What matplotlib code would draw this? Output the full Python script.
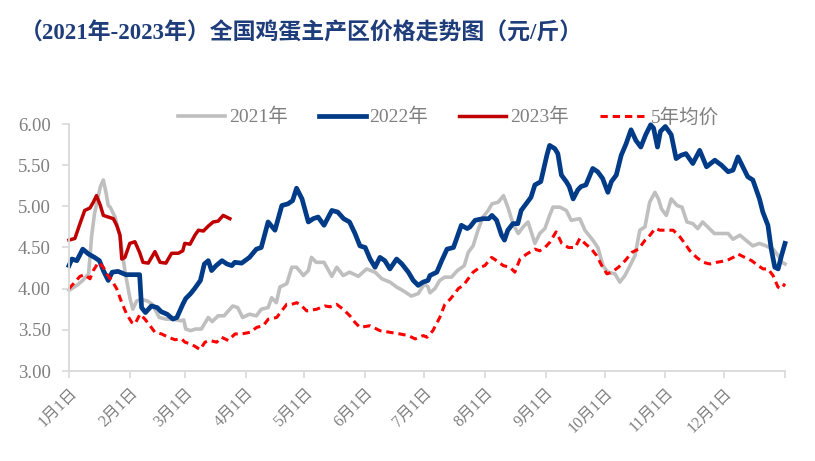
import numpy as np
import matplotlib
matplotlib.use("Agg")
import matplotlib.pyplot as plt

plt.rcParams['font.family'] = ['Liberation Serif', 'Noto Sans CJK SC', 'DejaVu Sans']

# day of year (0 = Jan 1) and price (yuan / jin)
d2021 = [0, 4, 7, 10, 11.5, 13, 16, 17.5, 19, 20, 21, 23.5, 26, 28.5, 31, 32.5, 34.5, 37, 40, 42.5,
         46, 49.5, 53, 57, 58.5, 59.5, 62, 64.5, 67.5, 71, 73, 76, 79, 83.5, 86, 88.5, 92, 95.5, 98,
         101.5, 103.3, 105.7, 107.5, 111, 113.6, 116, 119.5, 122, 123.6, 126, 130, 134, 136.5, 139.8,
         143, 147.5, 151.7, 156, 159.5, 163.6, 167, 170, 174.5, 178, 181.3, 183, 184, 186.5, 189,
         191.6, 195, 198, 201.5, 203.5, 206, 208.5, 211, 213.7, 215.6, 218.8, 221.5, 224, 226.3, 229,
         231.5, 234, 237.5, 240, 242.6, 245, 246.7, 250.2, 253.5, 256, 260.4, 263, 267, 269.6, 272.2,
         274.7, 278.3, 280.8, 283.4, 286, 288.5, 291, 293.6, 296, 298.7, 300.5, 302, 304.5, 307, 310,
         312.5, 315, 318, 320.5, 323, 325.6, 329, 333.5, 336, 338.5, 342, 345, 348.6, 352, 355.3, 359,
         361.5, 363.5, 365]
p2021 = [3.98, 4.04, 4.10, 4.18, 4.63, 4.91, 5.24, 5.32, 5.15, 5.01, 4.99, 4.87, 4.63, 4.22, 3.89, 3.75,
         3.85, 3.87, 3.85, 3.81, 3.65, 3.63, 3.63, 3.61, 3.62, 3.51, 3.49, 3.51, 3.51, 3.65, 3.60, 3.67,
         3.67, 3.79, 3.77, 3.65, 3.69, 3.67, 3.75, 3.77, 3.89, 3.83, 4.02, 4.06, 4.26, 4.26, 4.16, 4.22,
         4.38, 4.32, 4.32, 4.15, 4.26, 4.16, 4.20, 4.15, 4.24, 4.20, 4.12, 4.08, 4.02, 3.98, 3.91, 3.94,
         4.06, 4.02, 3.95, 4.00, 4.10, 4.14, 4.14, 4.22, 4.28, 4.44, 4.52, 4.71, 4.87, 4.95, 5.03, 5.05,
         5.13, 4.97, 4.79, 4.67, 4.75, 4.81, 4.55, 4.67, 4.73, 4.89, 4.99, 4.99, 4.95, 4.83, 4.85, 4.71,
         4.59, 4.50, 4.28, 4.20, 4.18, 4.08, 4.16, 4.28, 4.40, 4.71, 4.75, 5.05, 5.17, 5.09, 4.97, 4.89,
         5.09, 5.01, 4.99, 4.81, 4.79, 4.73, 4.81, 4.75, 4.67, 4.67, 4.67, 4.60, 4.65, 4.59, 4.52, 4.55,
         4.52, 4.48, 4.40, 4.32, 4.30]

d2022 = [0, 1.5, 4, 7, 10, 13, 15.5, 17.5, 20, 22, 25, 29, 36, 37, 39, 42, 45, 47, 50, 53, 55, 58, 59.5,
         62, 64, 67, 69, 71, 72.7, 75, 78, 80.5, 83, 84.5, 88, 92, 95.5, 98, 101.5, 105, 108.5, 111.6,
         114, 116, 118.8, 122, 124.5, 127, 130, 134, 137, 140, 143, 145.8, 148.3, 151, 153.5, 156, 158.5,
         161, 163.6, 167, 169.7, 173, 175.5, 178, 180.5, 183, 184, 187.5, 190, 192.7, 196, 198.5, 200,
         203, 204.4, 207, 211, 214, 215.6, 218, 220.5, 222, 223.7, 226.3, 228.8, 230.5, 233, 235.5,
         237.5, 239, 240.5, 243.6, 245, 247.7, 249.2, 251, 253.5, 255, 257, 259.4, 261, 263.5, 267,
         269.5, 272, 274.7, 276.5, 279, 281.5, 284, 286.5, 289, 291.5, 294, 296.5, 298, 300, 301.5, 304,
         307, 309.5, 312, 314.5, 318, 321.5, 325, 329.2, 332.6, 336, 338.5, 341, 343.5, 346, 348.6, 352,
         353.7, 356.3, 358, 359.8, 361.5, 363.2, 365]
p2022 = [4.28, 4.36, 4.34, 4.48, 4.42, 4.38, 4.34, 4.22, 4.10, 4.20, 4.21, 4.17, 4.17, 3.77, 3.71, 3.79,
         3.77, 3.72, 3.69, 3.63, 3.65, 3.81, 3.88, 3.94, 4.00, 4.10, 4.30, 4.34, 4.22, 4.28, 4.34, 4.30,
         4.28, 4.32, 4.31, 4.38, 4.48, 4.50, 4.81, 4.71, 5.01, 5.03, 5.07, 5.22, 5.09, 4.81, 4.85, 4.87,
         4.77, 4.95, 4.93, 4.85, 4.81, 4.67, 4.52, 4.50, 4.36, 4.26, 4.38, 4.34, 4.24, 4.36, 4.30, 4.20,
         4.10, 4.04, 4.08, 4.10, 4.16, 4.20, 4.34, 4.48, 4.50, 4.67, 4.77, 4.73, 4.75, 4.83, 4.85, 4.85,
         4.89, 4.83, 4.65, 4.59, 4.71, 4.79, 4.79, 4.95, 5.03, 5.11, 5.26, 5.28, 5.30, 5.62, 5.74, 5.70,
         5.64, 5.38, 5.30, 5.24, 5.09, 5.20, 5.24, 5.26, 5.46, 5.42, 5.34, 5.17, 5.30, 5.38, 5.62, 5.76,
         5.93, 5.80, 5.72, 5.87, 5.99, 5.95, 5.72, 5.91, 5.97, 5.87, 5.58, 5.62, 5.64, 5.52, 5.68, 5.48,
         5.56, 5.50, 5.42, 5.44, 5.60, 5.48, 5.36, 5.32, 5.09, 4.93, 4.77, 4.48, 4.26, 4.24, 4.40, 4.55]

d2023 = [0, 3, 5.6, 8, 10.7, 12.4, 14, 16, 17.5, 20, 22.6, 24.3, 26, 26.9, 28.5, 31, 33.6, 36, 37.7,
         40.4, 43.8, 46.4, 49.4, 52.3, 55.7, 58, 59, 61.7, 64.2, 66, 68.5, 71, 73.5, 76, 78.6, 82]
p2023 = [4.59, 4.61, 4.79, 4.95, 4.98, 5.05, 5.13, 5.01, 4.89, 4.87, 4.85, 4.77, 4.65, 4.36, 4.38, 4.55,
         4.57, 4.44, 4.32, 4.31, 4.45, 4.32, 4.31, 4.43, 4.43, 4.46, 4.55, 4.54, 4.65, 4.71, 4.70, 4.76,
         4.81, 4.82, 4.89, 4.85]

d_avg = [0, 3, 5.6, 8, 10.7, 12.4, 15, 17.5, 19.2, 21.8, 24.3, 26.9, 29.4, 32, 33.6, 36.2, 38.7, 41.3,
         43.8, 47.2, 50.6, 54, 57.4, 59.1, 61.7, 64.2, 66.8, 69.3, 71.9, 75.3, 77.8, 81.2, 84.6, 88, 92.3,
         95.7, 99, 101.6, 105.9, 108.4, 111, 113.6, 116.1, 118.6, 121.2, 126.2, 130.4, 133, 136.4, 139.8,
         143.2, 145.8, 148.3, 153.4, 158.5, 163.6, 168.7, 173, 176.4, 180.6, 182.5, 185.5, 189, 191.6,
         194.2, 196.7, 198.4, 201, 203.5, 206, 209.5, 212, 215.4, 218, 221.4, 224.8, 227.3, 229.9, 233.3,
         237.5, 240, 242.6, 245, 248.3, 251.2, 254.6, 258, 260.4, 263, 266.4, 269, 271.6, 274.2, 276.7,
         280.1, 283.5, 286.9, 290.3, 293.7, 296.2, 298.8, 301.3, 303.8, 308, 311.4, 313.9, 316.5, 319.9,
         323.3, 326.7, 330.1, 335.2, 338.6, 341.1, 344.5, 348, 351.3, 353.8, 356.3, 358.9, 361.4, 363.1,
         365]
p_avg = [4.00, 4.08, 4.15, 4.17, 4.12, 4.22, 4.32, 4.26, 4.18, 4.10, 4.00, 3.83, 3.69, 3.59, 3.57, 3.69,
         3.63, 3.55, 3.47, 3.45, 3.41, 3.38, 3.39, 3.35, 3.33, 3.30, 3.26, 3.35, 3.37, 3.35, 3.41, 3.37,
         3.45, 3.45, 3.47, 3.53, 3.55, 3.63, 3.65, 3.73, 3.81, 3.81, 3.83, 3.79, 3.73, 3.75, 3.79, 3.78,
         3.81, 3.75, 3.67, 3.59, 3.53, 3.55, 3.49, 3.47, 3.45, 3.43, 3.39, 3.43, 3.41, 3.49, 3.65, 3.81,
         3.87, 3.94, 4.00, 4.04, 4.12, 4.20, 4.26, 4.28, 4.38, 4.34, 4.28, 4.26, 4.20, 4.36, 4.42, 4.48,
         4.46, 4.50, 4.56, 4.69, 4.55, 4.50, 4.50, 4.61, 4.55, 4.48, 4.40, 4.28, 4.18, 4.20, 4.26, 4.34,
         4.44, 4.48, 4.59, 4.65, 4.73, 4.71, 4.71, 4.71, 4.63, 4.55, 4.46, 4.38, 4.32, 4.30, 4.32, 4.34,
         4.38, 4.42, 4.38, 4.34, 4.28, 4.24, 4.24, 4.16, 4.02, 4.00, 4.06]

month_starts = [0, 31, 59, 90, 120, 151, 181, 212, 243, 273, 304, 334]
month_labels = [f"{m}月1日" for m in range(1, 13)]

fig = plt.figure(figsize=(8.15, 4.61), dpi=100)
ax = fig.add_axes([69 / 815, 1 - 371 / 461, 716 / 815, 247 / 461])

ax.plot(d2021, p2021, color="#BFBFBF", lw=2.6, label="2021年", clip_on=False)
ax.plot(d2022, p2022, color="#003B87", lw=3.4, label="2022年", clip_on=False)
ax.plot(d2023, p2023, color="#C00000", lw=2.5, label="2023年", clip_on=False)
ax.plot(d_avg, p_avg, color="#FF0000", lw=2.2, ls=(0, (2.4, 1.6)), label="5年均价", clip_on=False)

ax.set_xlim(0, 365)
ax.set_ylim(3.0, 6.0)
ax.set_yticks(np.arange(3.0, 6.01, 0.5))
ax.set_yticklabels([f"{v:.2f}" for v in np.arange(3.0, 6.01, 0.5)])
ax.set_xticks(month_starts + [365])
ax.set_xticklabels(month_labels + [""], rotation=45, ha="right", va="top",
                   rotation_mode="anchor")

for s in ["top", "right"]:
    ax.spines[s].set_visible(False)
for s in ["left", "bottom"]:
    ax.spines[s].set_color("#D9D9D9")
    ax.spines[s].set_linewidth(1.3)
ax.tick_params(axis="y", colors="#D9D9D9", labelcolor="#7F7F7F", labelsize=13.5, length=5, width=1.2, pad=8)
ax.tick_params(axis="x", colors="#D9D9D9", labelcolor="#7F7F7F", labelsize=11.5, length=5, width=1.2, pad=5)

leg = ax.legend(loc="center", bbox_to_anchor=(0.53, (371 - 117) / 247), ncol=4, frameon=False,
                fontsize=14, handlelength=2.4, handletextpad=0.2, columnspacing=1.6)
for t in leg.get_texts():
    t.set_color("#7F7F7F")

fig.text(20 / 815, 1 - 33 / 461, "（2021年-2023年）全国鸡蛋主产区价格走势图（元/斤）",
         fontsize=16.5, fontweight="bold", color="#1F3D7A", va="center", ha="left")

fig.savefig("out.png", dpi=100)
